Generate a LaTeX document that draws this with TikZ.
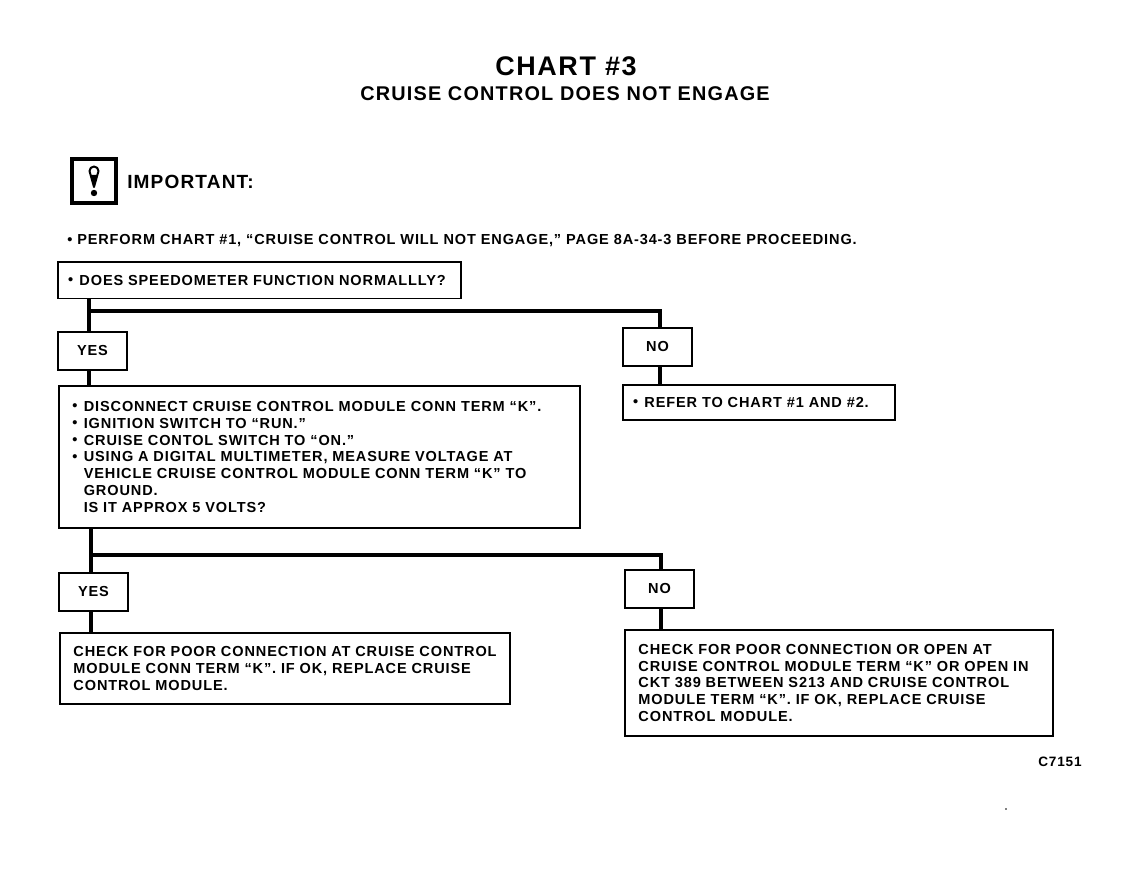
\documentclass[tikz,border=0pt]{standalone}
\usepackage{fontspec}
\setmainfont{Liberation Sans}[LetterSpace=6,BoldFont={Liberation Sans Bold}]
\usetikzlibrary{positioning, calc}
\newcommand{\bul}{\makebox[8.5pt][l]{\raisebox{0.5pt}{\textbullet}}}
\tikzset{
    x=0.75pt,
    y=-0.75pt,
    stepbox/.style={
        rectangle,
        draw=black,
        line width=1.2pt,
        anchor=north west,
        align=left,
        inner sep=0pt,
        fill=white,
        font=\fontsize{10.9}{12.6}\selectfont\bfseries
    },
    answer/.style={
        stepbox,
        align=center,
        minimum width=52pt,
        minimum height=28.5pt
    },
    heading/.style={
        inner sep=0pt,
        font=\bfseries
    },
    wire/.style={
        draw=black,
        line width=3pt
    },
    branch/.style={
        draw=black,
        line width=3pt,
        line join=miter
    }
}
\begin{document}
\begin{tikzpicture}
\useasboundingbox (0,0) rectangle (1136,880);

% Title
\node[heading, font=\fontsize{20.2}{24}\selectfont\bfseries] (title) at (566,66) {CHART \#3};
\node[heading, font=\fontsize{14.9}{16}\selectfont\bfseries] (subtitle) at (565,94) {CRUISE CONTROL DOES NOT ENGAGE};

% Important sign
\node[draw=black, line width=2.5pt, minimum width=33pt, minimum height=33pt, inner sep=0pt] (sign) at (94,181) {};
\draw[line width=1.5pt, line join=round] (94,187) -- (89.5,171) arc[start angle=180, end angle=360, radius=4.5] -- cycle;
\fill (90.5,175) -- (97.5,175) -- (94,187) -- cycle;
\fill (94,193) circle[radius=3.2];
\node[heading, anchor=west, font=\fontsize{14.3}{18}\selectfont\bfseries] (important) at (127,182) {IMPORTANT:};
\node[heading, anchor=west, font=\fontsize{10.9}{12}\selectfont\bfseries] (perform) at (67,241) {\textbullet{} PERFORM CHART \#1, ``CRUISE CONTROL WILL NOT ENGAGE,'' PAGE 8A-34-3 BEFORE PROCEEDING.};

% First question
\node[stepbox, minimum width=302.5pt, minimum height=27.5pt, text width=287pt] (speedo) at (57,261) {\bul DOES SPEEDOMETER FUNCTION NORMALLLY?};
\node[answer] (yesa) at (57,331) {YES};
\node[answer] (noa) at (622,327) {NO};
\node[stepbox, minimum width=204pt, minimum height=26.5pt, text width=188.5pt] (chart) at (622,384) {\bul REFER TO CHART \#1 AND \#2.};

% Second question
\node[stepbox, minimum width=391pt, minimum height=106.5pt, text width=370.5pt] (meas) at (58,385) {%
\bul DISCONNECT CRUISE CONTROL MODULE CONN TERM ``K''.\\
\bul IGNITION SWITCH TO ``RUN.''\\
\bul CRUISE CONTOL SWITCH TO ``ON.''\\
\bul USING A DIGITAL MULTIMETER, MEASURE VOLTAGE AT\\
\hspace*{8.5pt}VEHICLE CRUISE CONTROL MODULE CONN TERM ``K'' TO\\
\hspace*{8.5pt}GROUND.\\
\hspace*{8.5pt}IS IT APPROX 5 VOLTS?};
\node[answer] (yesb) at (58,572) {YES};
\node[answer] (nob) at (624,569) {NO};

% Repairs
\node[stepbox, minimum width=337.5pt, minimum height=53.5pt, text width=317pt] (fixa) at (59,632) {%
CHECK FOR POOR CONNECTION AT CRUISE CONTROL\\
MODULE CONN TERM ``K''. IF OK, REPLACE CRUISE\\
CONTROL MODULE.};
\node[stepbox, minimum width=321pt, minimum height=79.5pt, text width=300.5pt] (fixb) at (624,629) {%
CHECK FOR POOR CONNECTION OR OPEN AT\\
CRUISE CONTROL MODULE TERM ``K'' OR OPEN IN\\
CKT 389 BETWEEN S213 AND CRUISE CONTROL\\
MODULE TERM ``K''. IF OK, REPLACE CRUISE\\
CONTROL MODULE.};

% Part number
\node[heading, font=\fontsize{10.2}{12}\selectfont\bfseries] (partno) at (1060,762) {C7151};
\fill (1006,809) circle[radius=0.8];

% Forks
\coordinate (forka) at (89,311);
\coordinate (forkb) at (91,555);
\coordinate (turna) at (660,311);
\coordinate (turnb) at (661,555);

\draw[wire] (forka |- speedo.south) -- (forka |- yesa.north);
\draw[wire] (forka |- yesa.south) -- (forka |- meas.north);
\draw[branch] (forka) -- (turna) -- (turna |- noa.north);
\draw[wire] (turna |- noa.south) -- (turna |- chart.north);

\draw[wire] (forkb |- meas.south) -- (forkb |- yesb.north);
\draw[wire] (forkb |- yesb.south) -- (forkb |- fixa.north);
\draw[branch] (forkb) -- (turnb) -- (turnb |- nob.north);
\draw[wire] (turnb |- nob.south) -- (turnb |- fixb.north);

\end{tikzpicture}
\end{document}
